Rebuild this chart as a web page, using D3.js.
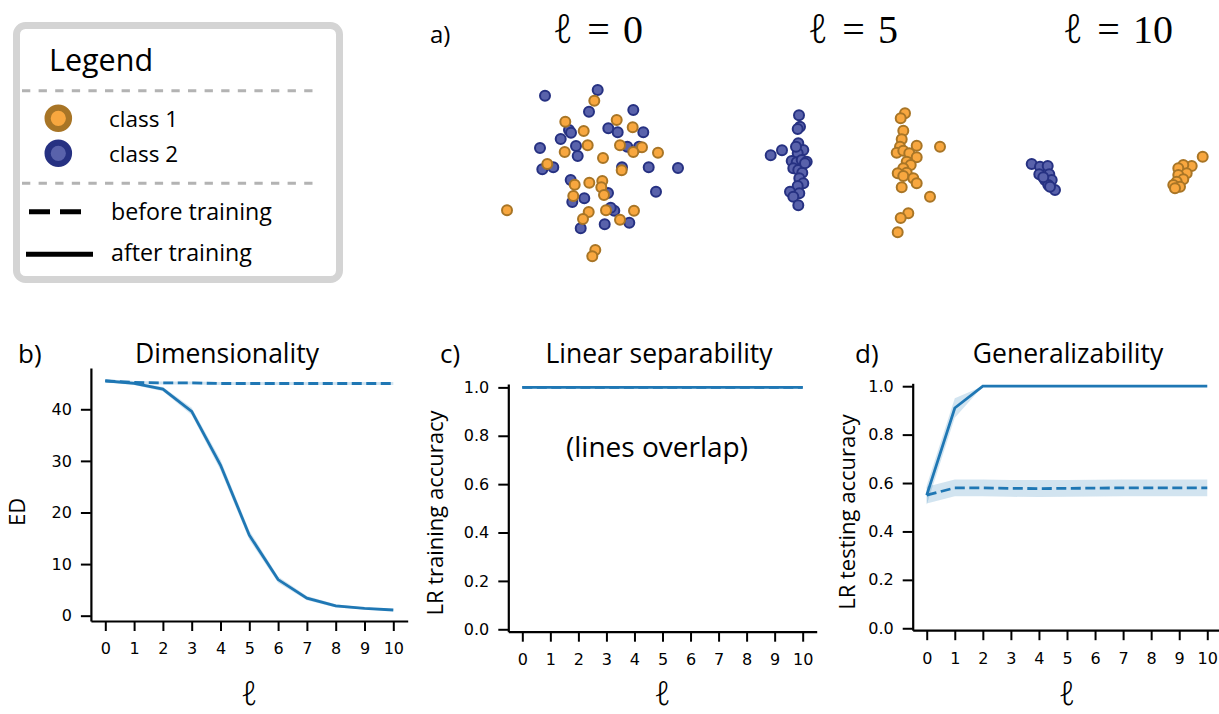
<!DOCTYPE html>
<html>
<head>
<meta charset="utf-8">
<script src="https://cdn.jsdelivr.net/npm/d3@7"></script>
<style>
  body { margin: 0; background: #fff; }
  svg { display: block; }
</style>
</head>
<body>
<svg id="fig" width="1219" height="714"></svg>
<script>
// ---------- data ----------
const layers = [0, 1, 2, 3, 4, 5, 6, 7, 8, 9, 10];

// b) effective dimensionality per layer
const edAfter        = [45.5, 45.0, 43.9, 39.6, 29.2, 15.6, 7.0, 3.4, 1.9, 1.4, 1.1];
const edAfterSpread  = [0.3, 0.3, 0.4, 0.7, 1.0, 0.9, 0.6, 0.4, 0.3, 0.2, 0.2];
const edBefore       = [45.5, 45.2, 45.1, 45.1, 45.0, 45.0, 45.0, 45.0, 45.0, 45.0, 45.0];
const edBeforeSpread = [0.3, 0.3, 0.3, 0.3, 0.3, 0.3, 0.3, 0.3, 0.3, 0.3, 0.3];

// c) logistic-regression training accuracy
const trainAfter  = [1, 1, 1, 1, 1, 1, 1, 1, 1, 1, 1];
const trainBefore = [1, 1, 1, 1, 1, 1, 1, 1, 1, 1, 1];
const trainSpread = [0.002, 0.002, 0.002, 0.002, 0.002, 0.002, 0.002, 0.002, 0.002, 0.002, 0.002];

// d) logistic-regression testing accuracy
const testAfter    = [0.55, 0.91, 1, 1, 1, 1, 1, 1, 1, 1, 1];
const testAfterLo  = [0.51, 0.87, 1, 1, 1, 1, 1, 1, 1, 1, 1];
const testAfterHi  = [0.59, 0.95, 1, 1, 1, 1, 1, 1, 1, 1, 1];
const testBefore   = [0.55, 0.58, 0.58, 0.578, 0.577, 0.578, 0.579, 0.58, 0.58, 0.58, 0.58];
const testBeforeLo = [0.515, 0.545, 0.545, 0.543, 0.542, 0.543, 0.544, 0.545, 0.545, 0.545, 0.545];
const testBeforeHi = [0.585, 0.615, 0.615, 0.613, 0.612, 0.613, 0.614, 0.615, 0.615, 0.615, 0.615];

const edTicks  = [0, 10, 20, 30, 40];
const accTicks = [0, 0.2, 0.4, 0.6, 0.8, 1.0];

// a) 2-D embeddings of the two classes at layers 0, 5 and 10
const snapLayers = [0, 5, 10];
const class2_l0 = [[-5.0,7.43],[0.27,8.0],[-0.6,5.83],[3.83,6.0],[1.33,4.17],[2.27,3.77],[4.83,3.77],
  [-2.6,4.0],[-2.4,3.73],[-3.43,3.1],[-5.5,2.2],[-1.9,2.4],[-1.73,1.4],[3.23,2.33],[4.4,2.33],
  [-5.27,0.07],[-4.17,0.27],[2.7,0.27],[5.37,0.27],[8.3,0.2],[-2.43,-1.0],[1.3,-2.3],[-1.07,-2.83],
  [-2.27,-3.2],[6.1,-2.17],[1.93,-4.07],[-1.43,-5.83],[0.97,-5.43],[3.43,-5.27],[1.57,-3.77]];
const class1_l0 = [[-0.07,6.93],[-2.97,4.83],[2.17,5.0],[3.77,4.27],[-1.13,3.9],[-0.73,2.47],[-3.03,1.8],
  [2.5,2.47],[4.7,2.27],[3.83,1.8],[6.3,1.73],[0.8,1.2],[-4.77,0.6],[2.67,-0.03],[-2.03,-1.47],
  [-0.57,-1.27],[0.73,-1.1],[0.63,-1.73],[0.9,-2.5],[-2.17,-2.6],[-8.8,-4.03],[-0.63,-4.2],
  [-1.2,-4.9],[1.1,-4.03],[2.5,-4.97],[3.9,-4.07],[0.03,-8.0],[-0.27,-8.63]];
const class2_l5 = [[-5.1,5.47],[-5.0,4.33],[-5.23,4.1],[-7.93,1.47],[-6.8,1.97],[-5.17,2.67],[-4.67,2.0],
  [-5.23,1.67],[-5.83,0.9],[-5.33,0.77],[-4.83,1.0],[-4.33,0.83],[-5.67,0.17],[-5.17,0.0],[-4.77,-0.27],
  [-5.07,-0.83],[-4.67,-1.33],[-5.23,-1.6],[-6.0,-2.17],[-5.07,-2.33],[-5.67,-2.67],[-5.17,-3.53],
  [-4.5,0.67],[-5.4,2.33]];
const class1_l5 = [[5.5,5.67],[5.07,5.17],[5.33,3.93],[5.17,3.07],[5.0,2.33],[6.67,2.43],[9.0,2.33],
  [4.67,1.73],[5.33,1.93],[5.93,1.67],[6.67,1.27],[5.67,0.83],[6.07,0.5],[5.33,0.17],[4.77,-0.33],
  [5.67,-0.27],[5.33,-0.6],[6.33,-0.83],[6.67,-1.33],[5.17,-1.73],[8.0,-2.67],[5.83,-4.33],
  [5.07,-4.8],[4.77,-6.23]];
const class2_l10 = [[-8.33,0.6],[-7.5,0.33],[-6.73,0.4],[-7.57,-0.43],[-6.57,-0.43],[-7.0,-1.0],
  [-6.33,-1.0],[-6.67,-1.5],[-6.0,-2.0],[-6.5,-1.67],[-7.17,-0.73]];
const class1_l10 = [[8.77,1.33],[7.67,0.4],[6.83,0.5],[6.33,0.17],[7.17,-0.33],[6.33,-0.5],
  [6.83,-0.93],[6.17,-1.17],[5.83,-1.5],[6.5,-1.67],[6.0,-1.83]];

// ---------- styles ----------
const BLUE = "#1f77b4";
const C1_FILL = "#f8a73f", C1_EDGE = "#a87526";
const C2_FILL = "#5962ab", C2_EDGE = "#263182";
const SANS = "'Open Sans', 'DejaVu Sans', sans-serif";
const TICKFONT = "'DejaVu Sans', sans-serif";
const MATH = "'Liberation Serif', 'DejaVu Serif', serif";
const ELL = "'Noto Sans', 'DejaVu Serif', serif";

const svg = d3.select("#fig");

// script-ell label helper: ℓ, then optional "= n"
function ellText(sel, suffix) {
  sel.append("tspan").attr("font-family", ELL).attr("font-style", "italic").attr("font-weight", 300).text("ℓ");
  if (suffix !== undefined) {
    sel.append("tspan").attr("font-family", MATH).attr("dx", 14).text("=");
    sel.append("tspan").attr("font-family", MATH).attr("dx", 13).text(suffix);
  }
  return sel;
}

// ---------- legend ----------
const lg = svg.append("g");
lg.append("rect").attr("x", 16.5).attr("y", 25.5).attr("width", 323).attr("height", 254)
  .attr("rx", 9).attr("fill", "#fff").attr("stroke", "#d4d4d4").attr("stroke-width", 7);
lg.append("text").attr("x", 49).attr("y", 71).attr("font-family", SANS).attr("font-size", 30.5)
  .text("Legend");
[90.7, 183.3].forEach(y => lg.append("line").attr("x1", 22).attr("x2", 314).attr("y1", y).attr("y2", y)
  .attr("stroke", "#b3b3b3").attr("stroke-width", 3).attr("stroke-dasharray", "8.3,8.3"));
const legClasses = [
  {label: "class 1", fill: C1_FILL, edge: C1_EDGE, y: 118.3},
  {label: "class 2", fill: C2_FILL, edge: C2_EDGE, y: 153.3}
];
legClasses.forEach(d => {
  lg.append("circle").attr("cx", 58.3).attr("cy", d.y).attr("r", 10.7)
    .attr("fill", d.fill).attr("stroke", d.edge).attr("stroke-width", 6.2);
  lg.append("text").attr("x", 109).attr("y", d.y + 8.5).attr("font-family", SANS).attr("font-size", 22.5)
    .text(d.label);
});
lg.append("line").attr("x1", 29).attr("x2", 81).attr("y1", 211.7).attr("y2", 211.7)
  .attr("stroke", "#000").attr("stroke-width", 5).attr("stroke-dasharray", "21,10");
lg.append("text").attr("x", 111).attr("y", 220).attr("font-family", SANS).attr("font-size", 23.2)
  .text("before training");
lg.append("line").attr("x1", 26).attr("x2", 93).attr("y1", 254.3).attr("y2", 254.3)
  .attr("stroke", "#000").attr("stroke-width", 5);
lg.append("text").attr("x", 111).attr("y", 261).attr("font-family", SANS).attr("font-size", 23.2)
  .text("after training");

// ---------- a) embeddings ----------
svg.append("text").attr("x", 430).attr("y", 43).attr("font-family", SANS).attr("font-size", 24).text("a)");
const snaps = [
  {l: 0,  c1: class1_l0,  c2: class2_l0,  cx: 598},
  {l: 5,  c1: class1_l5,  c2: class2_l5,  cx: 853},
  {l: 10, c1: class1_l10, c2: class2_l10, cx: 1118}
];
snaps.forEach(s => {
  const sx = d3.scaleLinear().domain([-10, 10]).range([s.cx - 3 - 100, s.cx - 3 + 100]);
  const sy = d3.scaleLinear().domain([-10, 10]).range([270, 70]);
  const t = svg.append("text").attr("x", s.cx).attr("y", 43).attr("text-anchor", "middle")
    .attr("font-size", 40);
  ellText(t, String(s.l));
  const g = svg.append("g");
  const pts = [];
  s.c2.forEach(p => pts.push({p, fill: C2_FILL, edge: C2_EDGE}));
  s.c1.forEach(p => pts.push({p, fill: C1_FILL, edge: C1_EDGE}));
  g.selectAll("circle").data(pts).join("circle")
    .attr("cx", d => sx(d.p[0])).attr("cy", d => sy(d.p[1])).attr("r", 5)
    .attr("fill", d => d.fill).attr("stroke", d => d.edge).attr("stroke-width", 2);
});

// ---------- line panels ----------
function panel(cfg) {
  const x = d3.scaleLinear().domain([-0.5, 10.5]).range(cfg.xr);
  const y = d3.scaleLinear().domain(cfg.yd).range(cfg.yr);
  const g = svg.append("g");

  const area = d3.area().x((d, i) => x(layers[i])).y0(d => y(d[0])).y1(d => y(d[1]));
  const line = d3.line().x((d, i) => x(layers[i])).y(d => y(d));

  cfg.series.forEach(s => {
    const band = s.lo.map((v, i) => [v, s.hi[i]]);
    g.append("path").datum(band).attr("d", area).attr("fill", BLUE).attr("fill-opacity", 0.2)
      .attr("stroke", "none");
  });
  cfg.series.forEach(s => {
    g.append("path").datum(s.v).attr("d", line).attr("fill", "none").attr("stroke", BLUE)
      .attr("stroke-width", 2.8).attr("stroke-dasharray", s.dashed ? "10,4.5" : null);
  });

  const xa = g.append("g").attr("transform", `translate(0,${cfg.yr[0]})`)
    .call(d3.axisBottom(x).tickValues(layers).tickSize(10).tickPadding(12).tickSizeOuter(0));
  const ya = g.append("g").attr("transform", `translate(${cfg.xr[0]},0)`)
    .call(d3.axisLeft(y).tickValues(cfg.yticks).tickFormat(cfg.fmt).tickSize(10).tickPadding(9).tickSizeOuter(0));
  [xa, ya].forEach(a => {
    a.select(".domain").attr("stroke", "#000").attr("stroke-width", 2.2);
    a.selectAll(".tick line").attr("stroke", "#000").attr("stroke-width", 2);
    a.selectAll(".tick text").attr("fill", "#000").attr("font-family", TICKFONT).attr("font-size", 16);
  });

  // titles and labels
  svg.append("text").attr("x", cfg.tag[0]).attr("y", 363).attr("font-family", SANS)
    .attr("font-size", 26).text(cfg.tag[1]);
  svg.append("text").attr("x", cfg.titleX).attr("y", 363).attr("text-anchor", "middle")
    .attr("font-family", SANS).attr("font-size", 26.5).text(cfg.title);
  svg.append("text").attr("transform", `translate(${cfg.ylabX},${cfg.ylabY}) rotate(-90)`)
    .attr("text-anchor", "middle").attr("font-family", SANS).attr("font-size", 22).text(cfg.ylab);
  const xl = svg.append("text").attr("x", (x(0) + x(10)) / 2).attr("y", 705).attr("text-anchor", "middle")
    .attr("font-size", 33);
  ellText(xl);
  return {x, y, g};
}

panel({
  xr: [90.9, 407.7], yd: [-1.03, 48], yr: [621, 368],
  yticks: edTicks, fmt: d3.format("d"),
  tag: [18, "b)"], title: "Dimensionality", titleX: 227,
  ylab: "ED", ylabX: 25, ylabY: 512,
  series: [
    {v: edBefore, lo: edBefore.map((v, i) => v - edBeforeSpread[i]), hi: edBefore.map((v, i) => v + edBeforeSpread[i]), dashed: true},
    {v: edAfter,  lo: edAfter.map((v, i) => v - edAfterSpread[i]),   hi: edAfter.map((v, i) => v + edAfterSpread[i]),   dashed: false}
  ]
});

panel({
  xr: [508.3, 816.7], yd: [-0.01, 1.014], yr: [631.7, 384],
  yticks: accTicks, fmt: d3.format(".1f"),
  tag: [440, "c)"], title: "Linear separability", titleX: 659,
  ylab: "LR training accuracy", ylabX: 443, ylabY: 513,
  series: [
    {v: trainBefore, lo: trainBefore.map((v, i) => v - trainSpread[i]), hi: trainBefore.map((v, i) => v + trainSpread[i]), dashed: true},
    {v: trainAfter,  lo: trainAfter.map((v, i) => v - trainSpread[i]),  hi: trainAfter.map((v, i) => v + trainSpread[i]),  dashed: false}
  ]
});
svg.append("text").attr("x", 657).attr("y", 457).attr("text-anchor", "middle")
  .attr("font-family", SANS).attr("font-size", 28).text("(lines overlap)");

panel({
  xr: [912.7, 1221.3], yd: [-0.008, 1.012], yr: [630.2, 383.3],
  yticks: accTicks, fmt: d3.format(".1f"),
  tag: [855, "d)"], title: "Generalizability", titleX: 1068,
  ylab: "LR testing accuracy", ylabX: 855, ylabY: 512,
  series: [
    {v: testBefore, lo: testBeforeLo, hi: testBeforeHi, dashed: true},
    {v: testAfter,  lo: testAfterLo,  hi: testAfterHi,  dashed: false}
  ]
});
</script>
</body>
</html>
